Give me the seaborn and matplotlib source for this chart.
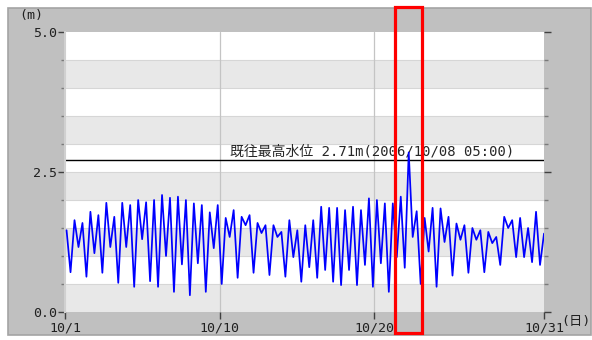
import matplotlib
matplotlib.use("Agg")
import matplotlib.pyplot as plt
import matplotlib.transforms as mtransforms
from matplotlib.patches import Rectangle
from matplotlib.ticker import MultipleLocator
import numpy as np
import pandas as pd
import seaborn as sns

# successive high / low water levels (m), roughly one every 6.2 h
levels = [
    1.46, 0.71, 1.64, 1.16, 1.59, 0.63, 1.79, 1.05, 1.73, 0.70,
    1.95, 1.16, 1.70, 0.52, 1.95, 1.16, 1.91, 0.45, 2.00, 1.30,
    1.96, 0.55, 2.00, 0.45, 2.09, 1.00, 2.04, 0.36, 2.06, 0.85,
    2.00, 0.30, 1.94, 0.87, 1.91, 0.36, 1.78, 1.14, 1.91, 0.50,
    1.68, 1.34, 1.82, 0.61, 1.70, 1.55, 1.73, 0.70, 1.59, 1.41,
    1.55, 0.66, 1.55, 1.34, 1.43, 0.63, 1.64, 0.98, 1.46, 0.54,
    1.55, 0.80, 1.64, 0.61, 1.88, 0.75, 1.86, 0.54, 1.86, 0.48,
    1.82, 0.75, 1.88, 0.48, 1.82, 0.84, 2.03, 0.45, 2.00, 0.87,
    1.94, 0.36, 1.94, 0.98, 2.06, 0.79, 2.85, 1.34, 1.80, 0.50,
    1.68, 1.08, 1.86, 0.45, 1.85, 1.25, 1.70, 0.65, 1.58, 1.29,
    1.55, 0.70, 1.50, 1.29, 1.46, 0.71, 1.43, 1.23, 1.34, 0.84,
    1.70, 1.50, 1.64, 0.98, 1.68, 0.98, 1.50, 0.89, 1.79, 0.84,
    1.40,
]
first_day, last_day = 0.1, 31.0     # days since 10/1 00:00
record_level = 2.71
record_label = "既往最高水位 2.71m(2006/10/08 05:00)"
tick_days = [0, 10, 20, 31]
tick_labels = ["10/1", "10/10", "10/20", "10/31"]
highlight_days = (21.36, 23.1)

sns.set_style("white")
plt.rcParams["font.family"] = ["DejaVu Sans Mono", "Noto Sans CJK JP"]

df = pd.DataFrame({"day": np.linspace(first_day, last_day, len(levels)),
                   "level": levels})

W, H = 592, 340
fig = plt.figure(figsize=(W / 100, H / 100), dpi=100)
fig.patch.set_facecolor("white")

# grey frame behind the plot
fig.patches.append(Rectangle((8 / W, 5 / H), 583 / W, 327 / H,
                             transform=fig.transFigure, facecolor="#c0c0c0",
                             edgecolor="#a4a4a4", lw=1.2, zorder=-5))

ax = fig.add_axes([65 / W, 28 / H, 479 / W, 280 / H])
ax.set_facecolor("white")
ax.set_zorder(1)

# alternating bands every 0.5 m
for lo in np.arange(0, 5, 1.0):
    ax.axhspan(lo, lo + 0.5, color="#e8e8e8", lw=0, zorder=0)
for y in np.arange(0.5, 5, 0.5):
    ax.axhline(y, color="#d6d6d6", lw=0.8, zorder=0.5)
for d in tick_days[1:-1]:
    ax.axvline(d, color="#c4c4c4", lw=0.9, zorder=0.6)

ax.axhline(record_level, color="black", lw=1.0, zorder=2)
ax.text(10.68, record_level + 0.03, record_label, fontsize=10,
        ha="left", va="bottom", zorder=3)

sns.lineplot(data=df, x="day", y="level", color="#0000ff", lw=1.25,
             ax=ax, zorder=4)

ax.set_xlim(0, 31)
ax.set_ylim(0, 5)
ax.set_xticks(tick_days, tick_labels)
ax.set_yticks([0, 2.5, 5.0], ["0.0", "2.5", "5.0"])
ax.yaxis.set_minor_locator(MultipleLocator(0.5))
ax.set_xlabel("")
ax.set_ylabel("")

for s in ["top", "right", "bottom"]:
    ax.spines[s].set_visible(False)
ax.spines["left"].set_color("#d0d0d0")
ax.spines["left"].set_linewidth(1.5)

ax.tick_params(axis="both", which="major", length=5, width=1, color="#404040",
               labelsize=9.5, labelcolor="#202020", pad=1)
ax.tick_params(axis="y", which="both", left=True, right=True, labelright=False)
ax.tick_params(axis="y", which="minor", length=3, width=1, color="#7a7a7a")
ax.tick_params(axis="x", bottom=True, pad=1.5)

fig.text(31 / W, 1 - 16 / H, "(m)", fontsize=9.5, ha="center", va="center",
         color="#202020")
fig.text(576 / W, 1 - 321 / H, "(日)", fontsize=9.5, ha="center", va="center",
         color="#202020")

# red box marking the period of interest
trans = mtransforms.blended_transform_factory(ax.transData, fig.transFigure)
ax.add_patch(Rectangle((highlight_days[0], 1 - 333 / H),
                       highlight_days[1] - highlight_days[0], 326 / H,
                       transform=trans, fill=False, edgecolor="#ff0000",
                       lw=2.3, clip_on=False, zorder=10))

fig.savefig("out.png", dpi=100)
